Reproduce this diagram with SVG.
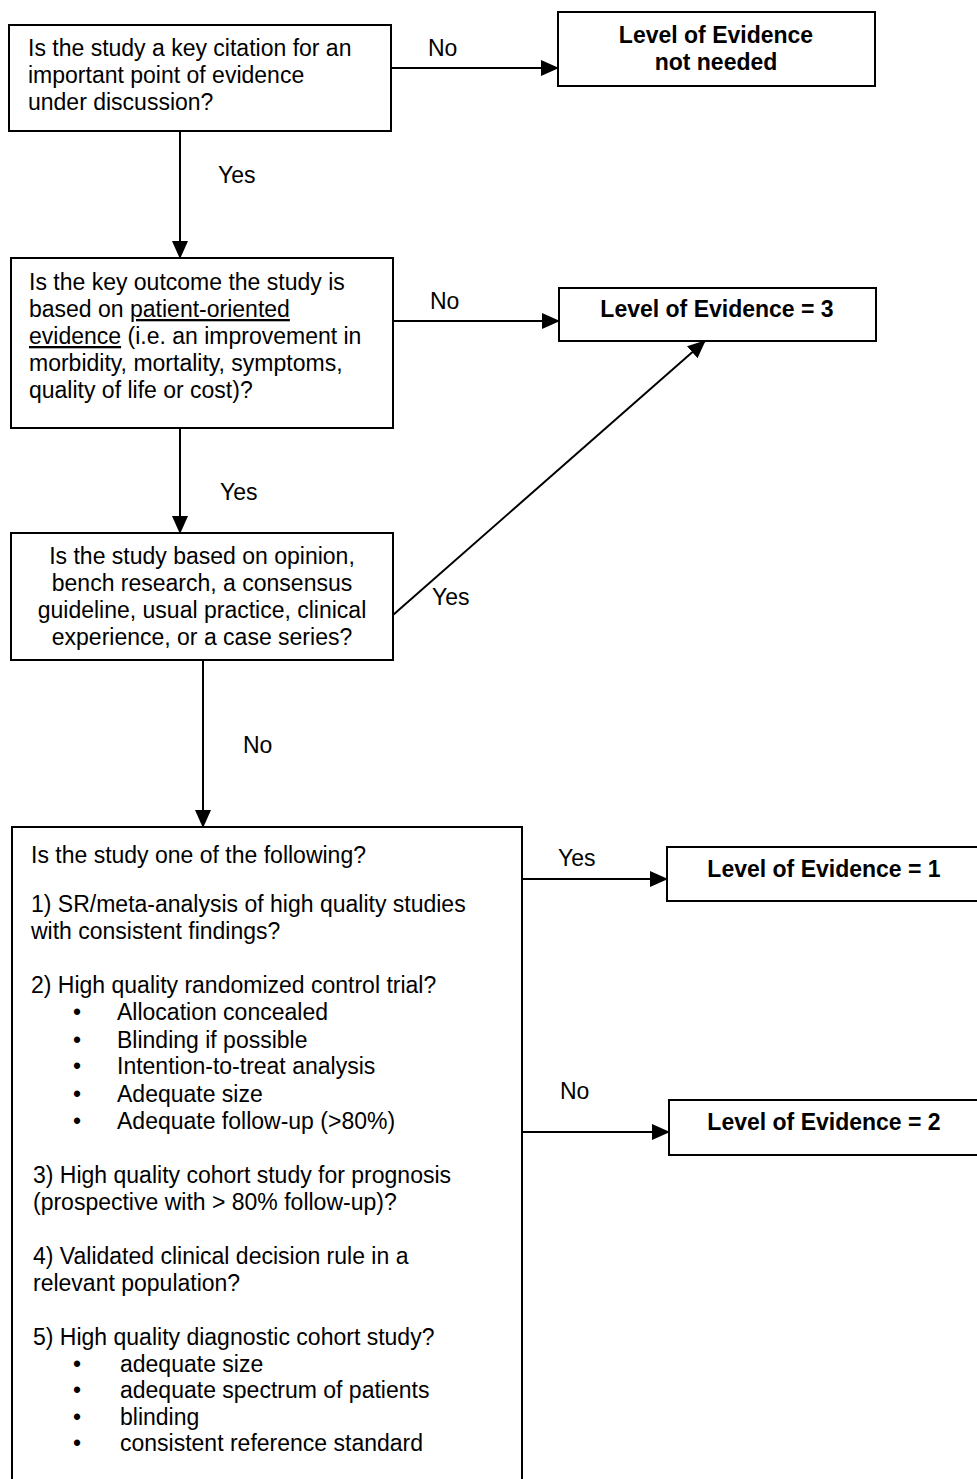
<svg xmlns="http://www.w3.org/2000/svg" width="977" height="1479" viewBox="0 0 977 1479">
<style>
text{font-family:"Liberation Sans",Arial,sans-serif;font-size:23px;fill:#000}
.b{font-weight:bold}
.box{fill:#fff;stroke:#000;stroke-width:2}
.c{stroke:#000;stroke-width:2;fill:none;marker-end:url(#ah)}
.m{text-anchor:middle}
</style>
<defs>
<marker id="ah" markerWidth="18" markerHeight="16" refX="17" refY="8" orient="auto" markerUnits="userSpaceOnUse" viewBox="0 0 18 16">
<path d="M0,0 L18,8 L0,16 Z" fill="#000"/>
</marker>
</defs>
<g id="connectors">
<line class="c" x1="391" y1="68" x2="558" y2="68"/>
<line class="c" x1="180" y1="131" x2="180" y2="258"/>
<line class="c" x1="393" y1="321" x2="559" y2="321"/>
<line class="c" x1="180" y1="428" x2="180" y2="533"/>
<line class="c" x1="393" y1="615" x2="705" y2="341"/>
<line class="c" x1="203" y1="660" x2="203" y2="827"/>
<line class="c" x1="522" y1="879" x2="667" y2="879"/>
<line class="c" x1="522" y1="1132" x2="669" y2="1132"/>
<text x="428" y="56">No</text>
<text x="218" y="183">Yes</text>
<text x="430" y="309">No</text>
<text x="220" y="500">Yes</text>
<text x="432" y="605">Yes</text>
<text x="243" y="753">No</text>
<text x="558" y="866">Yes</text>
<text x="560" y="1099">No</text>
</g>
<g id="q1">
<rect class="box" x="9" y="25" width="382" height="106"/>
<text x="28" y="56">Is the study a key citation for an</text>
<text x="28" y="83">important point of evidence</text>
<text x="28" y="110">under discussion?</text>
</g>
<g id="notneeded">
<rect class="box" x="558" y="12" width="317" height="74"/>
<text class="b m" x="716" y="43">Level of Evidence</text>
<text class="b m" x="716" y="70">not needed</text>
</g>
<g id="q2">
<rect class="box" x="11" y="258" width="382" height="170"/>
<text x="29" y="290">Is the key outcome the study is</text>
<text x="29" y="317">based on <tspan text-decoration="underline">patient-oriented</tspan></text>
<text x="29" y="344"><tspan text-decoration="underline">evidence</tspan> (i.e. an improvement in</text>
<text x="29" y="371">morbidity, mortality, symptoms,</text>
<text x="29" y="398">quality of life or cost)?</text>
</g>
<g id="loe3">
<rect class="box" x="559" y="288" width="317" height="53"/>
<text class="b m" x="717" y="317">Level of Evidence = 3</text>
</g>
<g id="q3">
<rect class="box" x="11" y="533" width="382" height="127"/>
<text class="m" x="202" y="564">Is the study based on opinion,</text>
<text class="m" x="202" y="591">bench research, a consensus</text>
<text class="m" x="202" y="618">guideline, usual practice, clinical</text>
<text class="m" x="202" y="645">experience, or a case series?</text>
</g>
<g id="q4">
<rect class="box" x="12" y="827" width="510" height="670"/>
<text x="31" y="863">Is the study one of the following?</text>
<text x="31" y="912">1) SR/meta-analysis of high quality studies</text>
<text x="31" y="939">with consistent findings?</text>
<text x="31" y="993">2) High quality randomized control trial?</text>
<text x="73" y="1020">•</text><text x="117" y="1020">Allocation concealed</text>
<text x="73" y="1048">•</text><text x="117" y="1048">Blinding if possible</text>
<text x="73" y="1074">•</text><text x="117" y="1074">Intention-to-treat analysis</text>
<text x="73" y="1102">•</text><text x="117" y="1102">Adequate size</text>
<text x="73" y="1129">•</text><text x="117" y="1129">Adequate follow-up (&gt;80%)</text>
<text x="33" y="1183">3) High quality cohort study for prognosis</text>
<text x="33" y="1210">(prospective with &gt; 80% follow-up)?</text>
<text x="33" y="1264">4) Validated clinical decision rule in a</text>
<text x="33" y="1291">relevant population?</text>
<text x="33" y="1345">5) High quality diagnostic cohort study?</text>
<text x="73" y="1372">•</text><text x="120" y="1372">adequate size</text>
<text x="73" y="1398">•</text><text x="120" y="1398">adequate spectrum of patients</text>
<text x="73" y="1425">•</text><text x="120" y="1425">blinding</text>
<text x="73" y="1451">•</text><text x="120" y="1451">consistent reference standard</text>
</g>
<g id="loe1">
<rect class="box" x="667" y="847" width="320" height="54"/>
<text class="b m" x="824" y="877">Level of Evidence = 1</text>
</g>
<g id="loe2">
<rect class="box" x="669" y="1100" width="320" height="55"/>
<text class="b m" x="824" y="1130">Level of Evidence = 2</text>
</g>
</svg>
